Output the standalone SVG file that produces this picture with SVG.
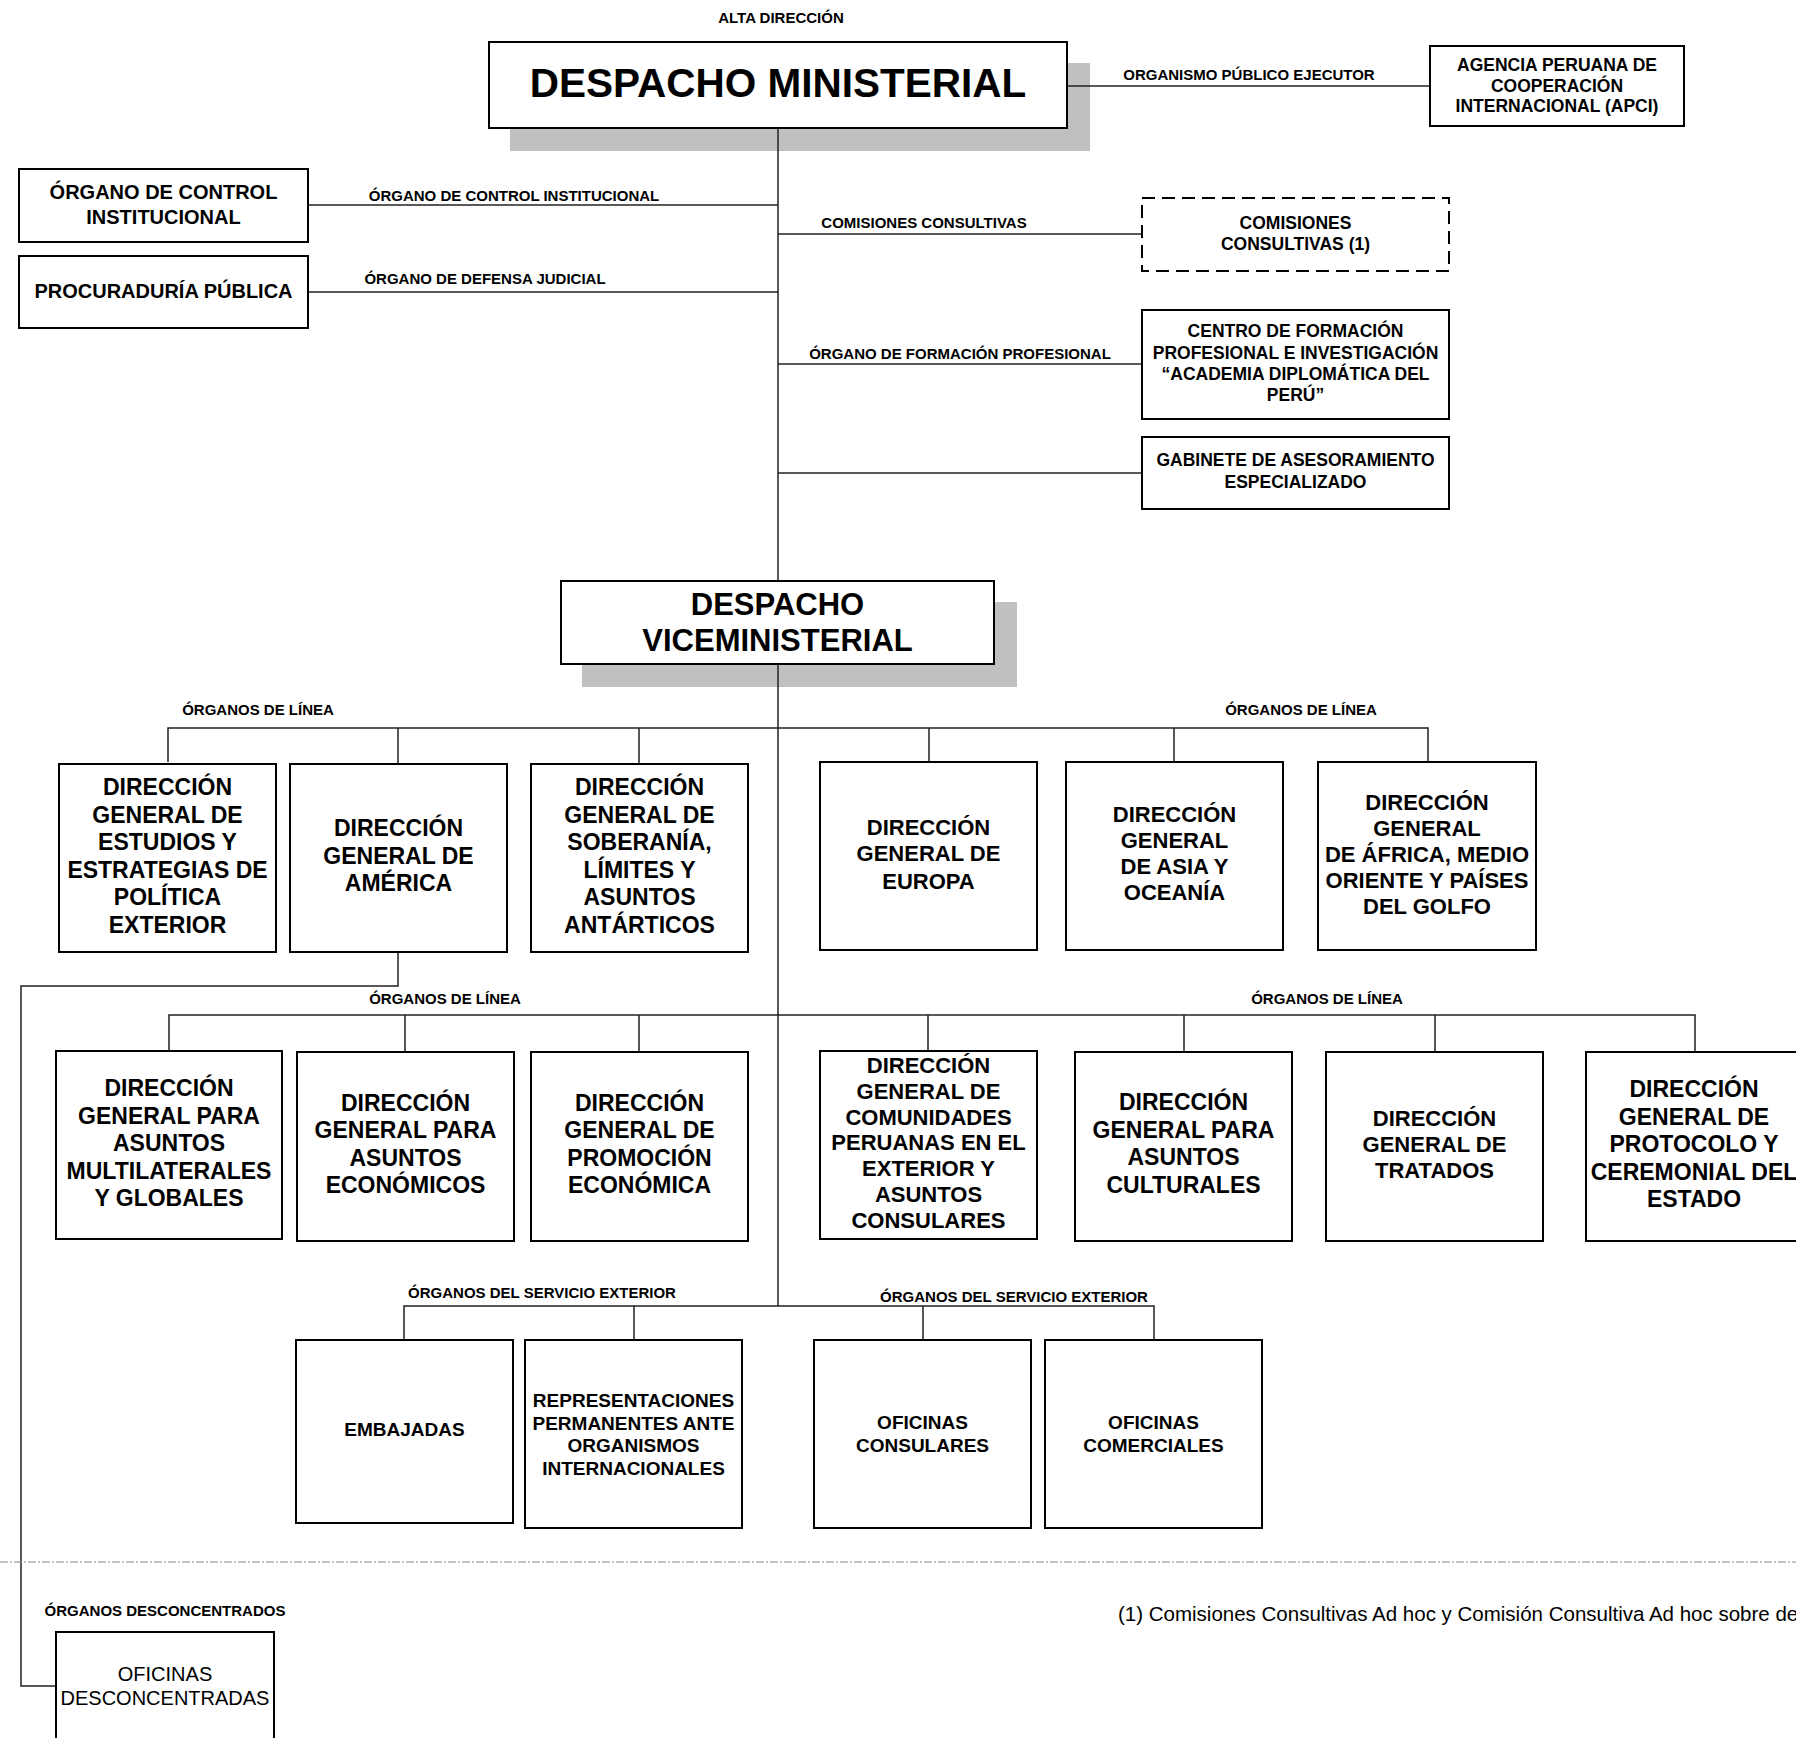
<svg xmlns="http://www.w3.org/2000/svg" width="1796" height="1738" viewBox="0 0 1796 1738">
<style>
text{font-family:"Liberation Sans",Arial,sans-serif;font-weight:bold;text-anchor:middle;fill:#000}
.box{fill:#fff;stroke:#000;stroke-width:2}
.dash{fill:#fff;stroke:#000;stroke-width:2;stroke-dasharray:13 7}
.shadow{fill:#c0c0c0}
.conn{fill:none;stroke:#222;stroke-width:1.5}
.lbl{font-size:15px}
.t40{font-size:40.5px}
.t31{font-size:31px}
.t20{font-size:20px}
.t175{font-size:17.5px}
.t23{font-size:23px}
.t22{font-size:22px}
.t19{font-size:19px}
.reg{font-weight:normal}
.div{fill:none;stroke:#888;stroke-width:1;stroke-dasharray:8 2 2 2}
</style>
<rect width="1796" height="1738" fill="#fff"/>
<!-- shadows -->
<rect class="shadow" x="510" y="63" width="580" height="88"/>
<rect class="shadow" x="582" y="602" width="435" height="85"/>
<!-- connectors -->
<g id="connectors">
<path class="conn" d="M778 128V1306"/>
<path class="conn" d="M1067 86H1430"/>
<path class="conn" d="M308 205H778"/>
<path class="conn" d="M308 292H778"/>
<path class="conn" d="M778 234H1142"/>
<path class="conn" d="M778 364H1142"/>
<path class="conn" d="M778 473H1142"/>
<path class="conn" d="M168 762V728H1428V762"/>
<path class="conn" d="M398 728V764M639 728V764M929 728V762M1174 728V762"/>
<path class="conn" d="M169 1051V1015H1695V1051"/>
<path class="conn" d="M405 1015V1051M639 1015V1051M928 1015V1051M1184 1015V1051M1435 1015V1051"/>
<path class="conn" d="M404 1340V1306H1154V1340"/>
<path class="conn" d="M634 1306V1340M923 1306V1340"/>
<path class="conn" d="M398 952V986H21V1686H56"/>
</g>
<line class="div" x1="0" y1="1562" x2="1796" y2="1562"/>
<!-- labels -->
<g id="labels">
<text class="lbl" x="781" y="23">ALTA DIRECCIÓN</text>
<text class="lbl" x="1249" y="80">ORGANISMO PÚBLICO EJECUTOR</text>
<text class="lbl" x="514" y="201">ÓRGANO DE CONTROL INSTITUCIONAL</text>
<text class="lbl" x="485" y="284">ÓRGANO DE DEFENSA JUDICIAL</text>
<text class="lbl" x="924" y="228">COMISIONES CONSULTIVAS</text>
<text class="lbl" x="960" y="359">ÓRGANO DE FORMACIÓN PROFESIONAL</text>
<text class="lbl" x="258" y="715">ÓRGANOS DE LÍNEA</text>
<text class="lbl" x="1301" y="715">ÓRGANOS DE LÍNEA</text>
<text class="lbl" x="445" y="1004">ÓRGANOS DE LÍNEA</text>
<text class="lbl" x="1327" y="1004">ÓRGANOS DE LÍNEA</text>
<text class="lbl" x="542" y="1298">ÓRGANOS DEL SERVICIO EXTERIOR</text>
<text class="lbl" x="1014" y="1302">ÓRGANOS DEL SERVICIO EXTERIOR</text>
<text class="lbl" x="165" y="1616">ÓRGANOS DESCONCENTRADOS</text>
<text class="reg" x="1118" y="1621" style="text-anchor:start;font-size:20.5px">(1) Comisiones Consultivas Ad hoc y Comisión Consultiva Ad hoc sobre de</text>
</g>
<!-- nodes -->
<g id="despacho-ministerial">
<rect class="box" x="489" y="42" width="578" height="86"/>
<text class="t40" x="778" y="97">DESPACHO MINISTERIAL</text>
</g>
<g id="apci">
<rect class="box" x="1430" y="46" width="254" height="80"/>
<text class="t175" x="1557" y="71">AGENCIA PERUANA DE</text>
<text class="t175" x="1557" y="92">COOPERACIÓN</text>
<text class="t175" x="1557" y="112">INTERNACIONAL (APCI)</text>
</g>
<g id="oci">
<rect class="box" x="19" y="169" width="289" height="73"/>
<text class="t20" x="163.5" y="199">ÓRGANO DE CONTROL</text>
<text class="t20" x="163.5" y="224">INSTITUCIONAL</text>
</g>
<g id="procuraduria">
<rect class="box" x="19" y="256" width="289" height="72"/>
<text class="t20" x="163.5" y="298">PROCURADURÍA PÚBLICA</text>
</g>
<g id="comisiones">
<rect class="dash" x="1142" y="198" width="307" height="73"/>
<text class="t175" x="1295.5" y="229">COMISIONES</text>
<text class="t175" x="1295.5" y="250">CONSULTIVAS (1)</text>
</g>
<g id="academia">
<rect class="box" x="1142" y="310" width="307" height="109"/>
<text class="t175" x="1295.5" y="337">CENTRO DE FORMACIÓN</text>
<text class="t175" x="1295.5" y="359">PROFESIONAL E INVESTIGACIÓN</text>
<text class="t175" x="1295.5" y="380">“ACADEMIA DIPLOMÁTICA DEL</text>
<text class="t175" x="1295.5" y="401">PERÚ”</text>
</g>
<g id="gabinete">
<rect class="box" x="1142" y="437" width="307" height="72"/>
<text class="t175" x="1295.5" y="466">GABINETE DE ASESORAMIENTO</text>
<text class="t175" x="1295.5" y="488">ESPECIALIZADO</text>
</g>
<g id="despacho-viceministerial">
<rect class="box" x="561" y="581" width="433" height="83"/>
<text class="t31" x="777.5" y="615">DESPACHO</text>
<text class="t31" x="777.5" y="651">VICEMINISTERIAL</text>
</g>
<g id="dg-estudios">
<rect class="box" x="59" y="764" width="217" height="188"/>
<text class="t23" x="167.5" y="795">DIRECCIÓN</text>
<text class="t23" x="167.5" y="822.5">GENERAL DE</text>
<text class="t23" x="167.5" y="850">ESTUDIOS Y</text>
<text class="t23" x="167.5" y="877.5">ESTRATEGIAS DE</text>
<text class="t23" x="167.5" y="905">POLÍTICA</text>
<text class="t23" x="167.5" y="932.5">EXTERIOR</text>
</g>
<g id="dg-america">
<rect class="box" x="290" y="764" width="217" height="188"/>
<text class="t23" x="398.5" y="836">DIRECCIÓN</text>
<text class="t23" x="398.5" y="864">GENERAL DE</text>
<text class="t23" x="398.5" y="891">AMÉRICA</text>
</g>
<g id="dg-soberania">
<rect class="box" x="531" y="764" width="217" height="188"/>
<text class="t23" x="639.5" y="795">DIRECCIÓN</text>
<text class="t23" x="639.5" y="822.5">GENERAL DE</text>
<text class="t23" x="639.5" y="850">SOBERANÍA,</text>
<text class="t23" x="639.5" y="877.5">LÍMITES Y</text>
<text class="t23" x="639.5" y="905">ASUNTOS</text>
<text class="t23" x="639.5" y="932.5">ANTÁRTICOS</text>
</g>
<g id="dg-europa">
<rect class="box" x="820" y="762" width="217" height="188"/>
<text class="t22" x="928.5" y="835">DIRECCIÓN</text>
<text class="t22" x="928.5" y="861">GENERAL DE</text>
<text class="t22" x="928.5" y="889">EUROPA</text>
</g>
<g id="dg-asia">
<rect class="box" x="1066" y="762" width="217" height="188"/>
<text class="t22" x="1174.5" y="822">DIRECCIÓN</text>
<text class="t22" x="1174.5" y="848">GENERAL</text>
<text class="t22" x="1174.5" y="874">DE ASIA Y</text>
<text class="t22" x="1174.5" y="900">OCEANÍA</text>
</g>
<g id="dg-africa">
<rect class="box" x="1318" y="762" width="218" height="188"/>
<text class="t22" x="1427" y="810">DIRECCIÓN</text>
<text class="t22" x="1427" y="836">GENERAL</text>
<text class="t22" x="1427" y="862">DE ÁFRICA, MEDIO</text>
<text class="t22" x="1427" y="888">ORIENTE Y PAÍSES</text>
<text class="t22" x="1427" y="914">DEL GOLFO</text>
</g>
<g id="dg-multilaterales">
<rect class="box" x="56" y="1051" width="226" height="188"/>
<text class="t23" x="169" y="1096">DIRECCIÓN</text>
<text class="t23" x="169" y="1124">GENERAL PARA</text>
<text class="t23" x="169" y="1151">ASUNTOS</text>
<text class="t23" x="169" y="1179">MULTILATERALES</text>
<text class="t23" x="169" y="1206">Y GLOBALES</text>
</g>
<g id="dg-economicos">
<rect class="box" x="297" y="1052" width="217" height="189"/>
<text class="t23" x="405.5" y="1111">DIRECCIÓN</text>
<text class="t23" x="405.5" y="1138">GENERAL PARA</text>
<text class="t23" x="405.5" y="1166">ASUNTOS</text>
<text class="t23" x="405.5" y="1193">ECONÓMICOS</text>
</g>
<g id="dg-promocion">
<rect class="box" x="531" y="1052" width="217" height="189"/>
<text class="t23" x="639.5" y="1111">DIRECCIÓN</text>
<text class="t23" x="639.5" y="1138">GENERAL DE</text>
<text class="t23" x="639.5" y="1166">PROMOCIÓN</text>
<text class="t23" x="639.5" y="1193">ECONÓMICA</text>
</g>
<g id="dg-comunidades">
<rect class="box" x="820" y="1051" width="217" height="188"/>
<text class="t22" x="928.5" y="1073">DIRECCIÓN</text>
<text class="t22" x="928.5" y="1099">GENERAL DE</text>
<text class="t22" x="928.5" y="1125">COMUNIDADES</text>
<text class="t22" x="928.5" y="1150">PERUANAS EN EL</text>
<text class="t22" x="928.5" y="1176">EXTERIOR Y</text>
<text class="t22" x="928.5" y="1202">ASUNTOS</text>
<text class="t22" x="928.5" y="1228">CONSULARES</text>
</g>
<g id="dg-culturales">
<rect class="box" x="1075" y="1052" width="217" height="189"/>
<text class="t23" x="1183.5" y="1110">DIRECCIÓN</text>
<text class="t23" x="1183.5" y="1138">GENERAL PARA</text>
<text class="t23" x="1183.5" y="1165">ASUNTOS</text>
<text class="t23" x="1183.5" y="1193">CULTURALES</text>
</g>
<g id="dg-tratados">
<rect class="box" x="1326" y="1052" width="217" height="189"/>
<text class="t22" x="1434.5" y="1126">DIRECCIÓN</text>
<text class="t22" x="1434.5" y="1152">GENERAL DE</text>
<text class="t22" x="1434.5" y="1178">TRATADOS</text>
</g>
<g id="dg-protocolo">
<rect class="box" x="1586" y="1052" width="217" height="189"/>
<text class="t23" x="1694" y="1097">DIRECCIÓN</text>
<text class="t23" x="1694" y="1124.5">GENERAL DE</text>
<text class="t23" x="1694" y="1152">PROTOCOLO Y</text>
<text class="t23" x="1694" y="1179.5">CEREMONIAL DEL</text>
<text class="t23" x="1694" y="1207">ESTADO</text>
</g>
<g id="embajadas">
<rect class="box" x="296" y="1340" width="217" height="183"/>
<text class="t19" x="404.5" y="1436">EMBAJADAS</text>
</g>
<g id="representaciones">
<rect class="box" x="525" y="1340" width="217" height="188"/>
<text class="t19" x="633.5" y="1407">REPRESENTACIONES</text>
<text class="t19" x="633.5" y="1430">PERMANENTES ANTE</text>
<text class="t19" x="633.5" y="1452">ORGANISMOS</text>
<text class="t19" x="633.5" y="1475">INTERNACIONALES</text>
</g>
<g id="oficinas-consulares">
<rect class="box" x="814" y="1340" width="217" height="188"/>
<text class="t19" x="922.5" y="1429">OFICINAS</text>
<text class="t19" x="922.5" y="1452">CONSULARES</text>
</g>
<g id="oficinas-comerciales">
<rect class="box" x="1045" y="1340" width="217" height="188"/>
<text class="t19" x="1153.5" y="1429">OFICINAS</text>
<text class="t19" x="1153.5" y="1452">COMERCIALES</text>
</g>
<g id="oficinas-desconcentradas">
<rect class="box" x="56" y="1632" width="218" height="130"/>
<text class="t20 reg" x="165" y="1681">OFICINAS</text>
<text class="t20 reg" x="165" y="1705">DESCONCENTRADAS</text>
</g>
</svg>
